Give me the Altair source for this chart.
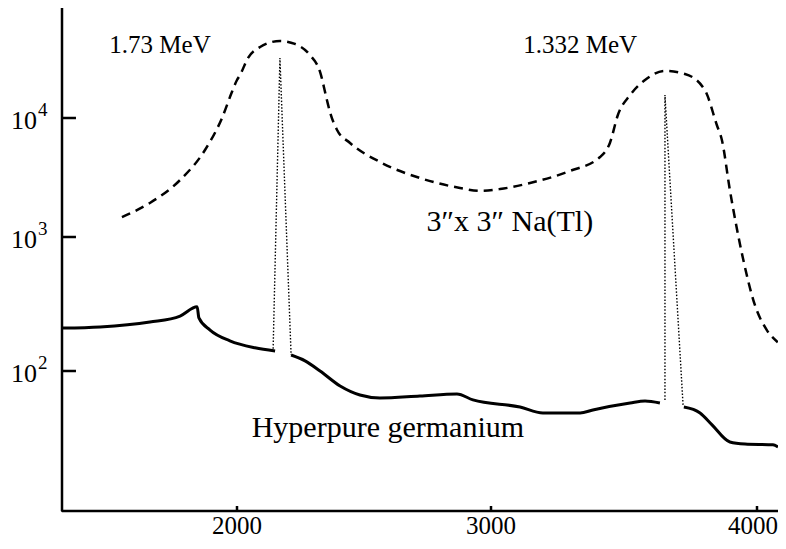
import altair as alt
import pandas as pd

# ---- data (channel number, counts) ----
nai_channel = [1547, 1657, 1776, 1874, 1941, 1980, 2000, 2012, 2043, 2091, 2169, 2228,
               2287, 2327, 2354, 2366, 2394, 2445, 2563, 2720, 2878, 2957, 3034, 3147,
               3297, 3410, 3447, 3477, 3523, 3579, 3654, 3729, 3804, 3849, 3868, 3898,
               3947, 3992, 4037, 4078]
nai_counts = [1472, 1933, 3013, 5383, 10000, 16520, 20840, 22970, 31900, 39500, 44400, 41900,
              33800, 24400, 14170, 11230, 7930, 6170, 4266, 3133, 2582, 2440, 2530, 2844,
              3590, 4700, 6170, 10600, 15600, 20840, 24840, 23440, 17170, 8730, 6530, 2483,
              697, 311, 202, 164]

ge_seg1_channel = [1315, 1461, 1657, 1776, 1843, 1850, 1894, 1972, 2071, 2150]
ge_seg1_counts = [209, 213, 232, 257, 301, 249, 202, 168, 149, 141]

ge_seg2_channel = [2213, 2268, 2327, 2406, 2484, 2563, 2720, 2866, 2929, 3109, 3195, 3335,
                   3383, 3523, 3579, 3635]
ge_seg2_counts = [131.6, 119, 100, 77.3, 66.2, 62.9, 65.1, 67.3, 60.8, 53.8, 48.6, 48.6,
                  51.2, 57.7, 59.7, 57.7]

ge_seg3_channel = [3725, 3786, 3831, 3898, 3955, 4060, 4079]
ge_seg3_counts = [53.8, 48.6, 39.6, 29.5, 28.5, 28.1, 27.1]

peak1_channel = [2142, 2169, 2213]
peak1_counts = [138.7, 31900, 131.6]
peak2_channel = [3654, 3654, 3722]
peak2_counts = [60.8, 15600, 55.7]

mev_text = ["1.73 MeV", "1.332 MeV"]
mev_channel = [1697, 3335]
mev_counts = [41000, 41000]

desc_text = ["3\u2033x 3\u2033 Na(Tl)", "Hyperpure germanium"]
desc_channel = [3071, 2594]
desc_counts = [1337, 37.6]

x_ticks = [2000, 3000, 4000]
y_ticks = [100, 1000, 10000]
y_tick_exponent = ["2", "3", "4"]

X_MIN, X_MAX = 1311, 4079
Y_MIN, Y_MAX = 9.0, 84000
Y_TICK_END = 1366      # channel where the inward y ticks end
X_TICK_END = 9.8       # counts where the inward x ticks end

# ---- tables ----
nai = pd.DataFrame({"ch": nai_channel, "counts": nai_counts})
ge = pd.concat([
    pd.DataFrame({"ch": ge_seg1_channel, "counts": ge_seg1_counts, "seg": "a"}),
    pd.DataFrame({"ch": ge_seg2_channel, "counts": ge_seg2_counts, "seg": "b"}),
    pd.DataFrame({"ch": ge_seg3_channel, "counts": ge_seg3_counts, "seg": "c"}),
], ignore_index=True)
peaks = pd.concat([
    pd.DataFrame({"ch": peak1_channel, "counts": peak1_counts, "pk": "p1"}),
    pd.DataFrame({"ch": peak2_channel, "counts": peak2_counts, "pk": "p2"}),
], ignore_index=True)
mev = pd.DataFrame({"ch": mev_channel, "counts": mev_counts, "txt": mev_text})
desc = pd.DataFrame({"ch": desc_channel, "counts": desc_counts, "txt": desc_text})

# axis frame drawn as one path: down the left axis with inward ticks,
# then along the bottom axis with inward ticks
fx, fy = [X_MIN], [Y_MAX]
for v in sorted(y_ticks, reverse=True):
    fx += [X_MIN, Y_TICK_END, X_MIN]
    fy += [v, v, v]
fx.append(X_MIN)
fy.append(Y_MIN)
for v in x_ticks:
    fx += [v, v, v]
    fy += [Y_MIN, X_TICK_END, Y_MIN]
fx.append(X_MAX)
fy.append(Y_MIN)
frame = pd.DataFrame({"ch": fx, "counts": fy, "i": list(range(len(fx)))})

ylab = pd.DataFrame({"ch": [X_MIN] * 3, "counts": y_ticks,
                     "base": ["10"] * 3, "exp": y_tick_exponent})
xlab = pd.DataFrame({"ch": x_ticks, "counts": [Y_MIN] * 3,
                     "txt": [str(v) for v in x_ticks]})

FONT = "Liberation Serif"
W, H = 716, 503

xscale = alt.Scale(domain=[X_MIN, 2000, 3000, 4000, X_MAX], range=[0, 175, 429, 695, W])
yscale = alt.Scale(type="log", domain=[Y_MIN, 100, 1000, 10000, Y_MAX],
                   range=[H, 363, 229, 110, 0])

X = alt.X("ch:Q", scale=xscale, axis=None)
Y = alt.Y("counts:Q", scale=yscale, axis=None)

frame_layer = alt.Chart(frame).mark_line(
    color="black", strokeWidth=2.5, strokeJoin="bevel", strokeCap="butt"
).encode(x=X, y=Y, order=alt.Order("i:Q", sort="ascending"))

nai_layer = alt.Chart(nai).mark_line(
    color="black", strokeWidth=2.5, strokeDash=[9, 6], interpolate="monotone"
).encode(x=X, y=Y)

ge_layer = alt.Chart(ge).mark_line(
    color="black", strokeWidth=3, interpolate="monotone"
).encode(x=X, y=Y, detail="seg:N")

peak_layer = alt.Chart(peaks).mark_line(
    color="black", strokeWidth=1.4, strokeDash=[1.5, 1.8]
).encode(x=X, y=Y, detail="pk:N")

ylab_base = alt.Chart(ylab).mark_text(
    font=FONT, fontSize=26, color="black", align="right", baseline="middle", dx=-25, dy=3
).encode(x=X, y=Y, text="base:N")
ylab_exp = alt.Chart(ylab).mark_text(
    font=FONT, fontSize=19, color="black", align="left", baseline="middle", dx=-24, dy=-8
).encode(x=X, y=Y, text="exp:N")

xlab_mid = alt.Chart(xlab[xlab["ch"] < x_ticks[-1]]).mark_text(
    font=FONT, fontSize=25, color="black", align="center", baseline="top", dy=3
).encode(x=X, y=Y, text="txt:N")
xlab_last = alt.Chart(xlab[xlab["ch"] == x_ticks[-1]]).mark_text(
    font=FONT, fontSize=25, color="black", align="right", baseline="top", dx=21, dy=3
).encode(x=X, y=Y, text="txt:N")

mev_layer = alt.Chart(mev).mark_text(
    font=FONT, fontSize=25, color="black", align="center", baseline="middle"
).encode(x=X, y=Y, text="txt:N")

desc_layer = alt.Chart(desc).mark_text(
    font=FONT, fontSize=30, color="black", align="center", baseline="middle"
).encode(x=X, y=Y, text="txt:N")

chart = alt.layer(
    frame_layer, nai_layer, ge_layer, peak_layer,
    ylab_base, ylab_exp, xlab_mid, xlab_last, mev_layer, desc_layer
).properties(
    width=W, height=H,
    autosize=alt.AutoSizeParams(type="none"),
    padding={"left": 54, "top": 0, "right": 0, "bottom": 38},
).configure_view(stroke=None)

chart.save("out.html", embed_options={"renderer": "svg", "actions": False})
